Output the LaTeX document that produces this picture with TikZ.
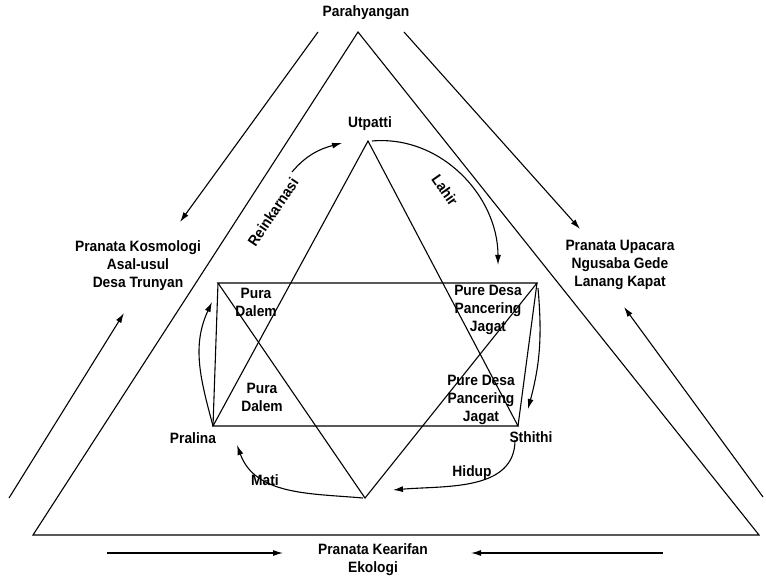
\documentclass[tikz,border=0pt]{standalone}
\usepackage{fontspec}
\setsansfont{Liberation Sans}[FakeStretch = 0.92]
\usepackage{tikz}
\usetikzlibrary{arrows.meta, calc}
\pgfdeclarelayer{background}
\pgfsetlayers{background,main}

\begin{document}
\begin{tikzpicture}[x = 1pt, y = 1pt]

    % Sans-serif text
    \sffamily

    % Text nodes
    \tikzset{lbl/.style={inner sep = 0pt, align = center, font = \bfseries\fontsize{15}{18}\selectfont}}

    % Lines and arrows
    \tikzset{eL/.style={draw = black, line width = 1.1pt, line join = miter}}
    \tikzset{aL/.style={draw = black, line width = 1.1pt, -{Latex[length = 10pt, width = 6pt]}}}

    % Page
    \useasboundingbox (0, 0) rectangle (766, 579);

    % Outer triangle
    \coordinate (oA) at (358, 547);
    \coordinate (oL) at (33, 44);
    \coordinate (oR) at (759, 44);

    % Hexagram corners
    \coordinate (u) at (368, 438);
    \coordinate (tl) at (218, 296);
    \coordinate (tr) at (537, 296);
    \coordinate (bl) at (213, 153);
    \coordinate (br) at (518, 153);
    \coordinate (d) at (365, 81);

    % Labels
    \node (par) [lbl] at (366, 566) {Parahyangan};
    \node (kos) [lbl] at (138, 313) {Pranata Kosmologi\\Asal-usul\\Desa Trunyan};
    \node (upa) [lbl] at (620, 314) {Pranata Upacara\\Ngusaba Gede\\Lanang Kapat};
    \node (eko) [lbl] at (373, 19) {Pranata Kearifan\\Ekologi};
    \node (utp) [lbl] at (370, 455) {Utpatti};
    \node (pra) [lbl] at (193, 141) {Pralina};
    \node (sth) [lbl] at (531, 142) {Sthithi};
    \node (pd1) [lbl] at (256, 277) {Pura\\Dalem};
    \node (pd2) [lbl] at (262, 182) {Pura\\Dalem};
    \node (pj1) [lbl] at (488, 269) {Pure Desa\\Pancering\\Jagat};
    \node (pj2) [lbl] at (481, 179) {Pure Desa\\Pancering\\Jagat};
    \node (rei) [lbl, rotate = 56] at (273, 367) {Reinkarnasi};
    \node (lah) [lbl, rotate = -55] at (445, 389) {Lahir};
    \node (hid) [lbl] at (472, 106) {Hidup};
    \node (mat) [lbl] at (265, 99) {Mati};

    % Arrow ends
    \coordinate (a1s) at (318, 547);  \coordinate (a1e) at (180, 357);
    \coordinate (a2s) at (404, 547);  \coordinate (a2e) at (580, 350);
    \coordinate (a3s) at (9, 81);     \coordinate (a3e) at (124, 266);
    \coordinate (a4s) at (763, 82);   \coordinate (a4e) at (624, 272);
    \coordinate (a5s) at (107, 26);   \coordinate (a5e) at (283, 26);
    \coordinate (a6s) at (663, 26);   \coordinate (a6e) at (471, 26);
    \coordinate (rs) at (292, 407);   \coordinate (re) at (342, 436);
    \coordinate (ls) at (372, 438);   \coordinate (le) at (498, 314);
    \coordinate (ss) at (538, 291);   \coordinate (se) at (528, 170);
    \coordinate (hs) at (515, 139);   \coordinate (he) at (393, 89);
    \coordinate (ms) at (363, 81);    \coordinate (me) at (237, 134);
    \coordinate (ps) at (213, 153);   \coordinate (pe) at (212, 277);

    \begin{pgfonlayer}{background}

        % Outer triangle
        \path[eL] (oA) -- (oL) -- (oR) -- cycle;

        % Hexagram in the frame
        \path[eL] (u) -- (bl) -- (br) -- cycle;
        \path[eL] (d) -- (tl) -- (tr) -- cycle;
        \path[eL] (tl) -- (bl);
        \path[eL] (tr) -- (br);

        % Outer arrows
        \path[aL] (a1s) -- (a1e);
        \path[aL] (a2s) -- (a2e);
        \path[aL] (a3s) -- (a3e);
        \path[aL] (a4s) -- (a4e);
        \path[aL] (a5s) -- (a5e);
        \path[aL] (a6s) -- (a6e);

        % Cycle
        \path[aL] (rs) to[out = 50, in = 195] (re);
        \path[aL] (ls) to[out = 5, in = 90] (le);
        \path[aL] (ss) to[out = -85, in = 75] (se);
        \path[aL] (hs) to[out = -90, in = 5] (he);
        \path[aL] (ms) to[out = 175, in = -70] (me);
        \path[aL] (ps) to[out = 105, in = -115] (pe);

    \end{pgfonlayer}

\end{tikzpicture}
\end{document}
